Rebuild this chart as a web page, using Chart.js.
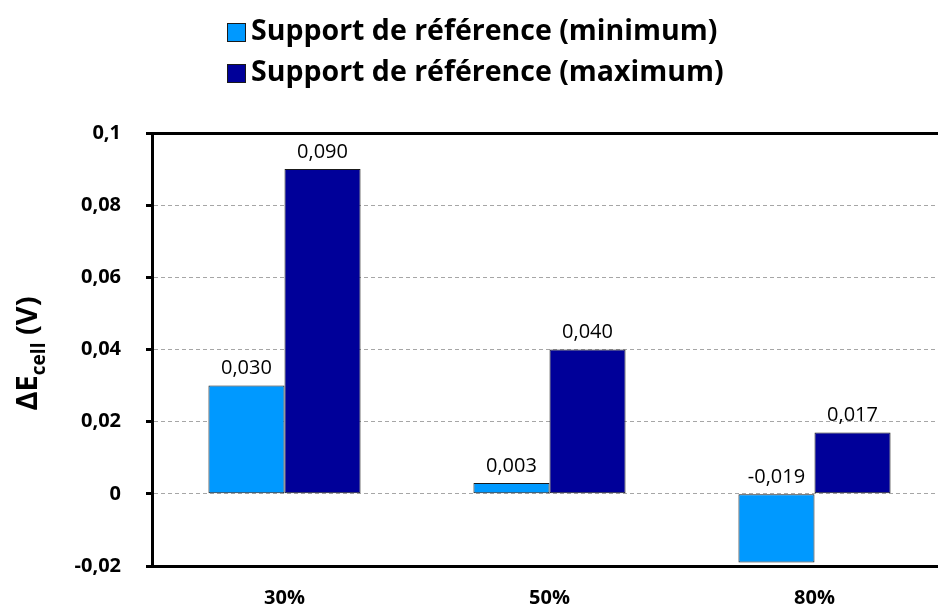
<!DOCTYPE html>
<html lang="fr">
<head>
  <meta charset="UTF-8">
  <title>ΔEcell – supports de référence</title>
  <script src="https://cdn.jsdelivr.net/npm/chart.js"></script>
  <style>
    html, body { margin: 0; padding: 0; overflow: hidden; background: #fff; }
    /* slightly wider than the window: the plot runs off the right edge */
    #chart-container { position: relative; width: 950px; height: 612px; }
  </style>
</head>
<body>
  <div id="chart-container">
    <canvas id="deltaChart"></canvas>
  </div>

  <script>
    // Data
    const categories = ['30%', '50%', '80%'];
    const seriesNames = ['Support de référence (minimum)', 'Support de référence (maximum)'];
    const minValues = [0.030, 0.003, -0.019];
    const maxValues = [0.090, 0.040, 0.017];
    const yTicks = [-0.02, 0, 0.02, 0.04, 0.06, 0.08, 0.1];
    const yTickLabels = ['-0,02', '0', '0,02', '0,04', '0,06', '0,08', '0,1'];

    const fontFamily = '"Open Sans", sans-serif';
    Chart.defaults.font.family = fontFamily;
    Chart.defaults.color = '#000';

    // Legend: two entries stacked, left edges aligned, centred as a block
    const stackedLegend = {
      id: 'stackedLegend',
      afterDraw(chart) {
        const ctx = chart.ctx;
        const box = 19, gap = 5;
        ctx.save();
        ctx.font = 'bold 28.5px ' + fontFamily;
        const textW = Math.max(...chart.data.datasets.map(ds => ctx.measureText(ds.label).width));
        const left = Math.round(chart.width / 2 - (box + gap + textW) / 2);
        ctx.textBaseline = 'middle';
        chart.data.datasets.forEach((ds, i) => {
          const cy = 32 + i * 41;
          const top = Math.round(cy - box / 2);
          ctx.fillStyle = ds.backgroundColor;
          ctx.fillRect(left, top, box, box);
          ctx.strokeStyle = ds.borderColor;
          ctx.lineWidth = 1;
          ctx.strokeRect(left + 0.5, top + 0.5, box - 1, box - 1);
          ctx.fillStyle = '#000';
          ctx.fillText(ds.label, left + box + gap, cy);
        });
        ctx.restore();
      }
    };

    // Rotated y title with the "cell" subscript
    const yTitle = {
      id: 'yTitle',
      afterDraw(chart) {
        const { ctx, chartArea } = chart;
        const big = 'bold 29px ' + fontFamily;
        const small = 'bold 19px ' + fontFamily;
        ctx.save();
        ctx.translate(27, (chartArea.top + chartArea.bottom) / 2 + 4);
        ctx.rotate(-Math.PI / 2);
        ctx.font = big;
        const w1 = ctx.measureText('ΔE').width;
        const w3 = ctx.measureText(' (V)').width;
        ctx.font = small;
        const w2 = ctx.measureText('cell').width;
        let x = -(w1 + w2 + w3) / 2;
        ctx.fillStyle = '#000';
        ctx.textBaseline = 'alphabetic';
        ctx.font = big;
        ctx.fillText('ΔE', x, 10);
        x += w1;
        ctx.font = small;
        ctx.fillText('cell', x, 18);
        x += w2;
        ctx.font = big;
        ctx.fillText(' (V)', x, 10);
        ctx.restore();
      }
    };

    // Value written above each bar (above the zero line for negative ones)
    const valueLabels = {
      id: 'valueLabels',
      afterDatasetsDraw(chart) {
        const ctx = chart.ctx;
        ctx.save();
        ctx.font = '20px ' + fontFamily;
        ctx.fillStyle = '#000';
        ctx.textAlign = 'center';
        ctx.textBaseline = 'bottom';
        chart.data.datasets.forEach((ds, i) => {
          chart.getDatasetMeta(i).data.forEach((bar, j) => {
            const top = Math.min(bar.y, bar.base);
            ctx.fillText(ds.data[j].toFixed(3).replace('.', ','), bar.x, top - 7);
          });
        });
        ctx.restore();
      }
    };

    const edgeTick = (c) => c.index === 0 || c.index === yTicks.length - 1;

    const ctx = document.getElementById('deltaChart').getContext('2d');
    new Chart(ctx, {
      type: 'bar',
      data: {
        labels: categories,
        datasets: [
          {
            label: seriesNames[0],
            data: minValues,
            backgroundColor: '#0099FF',
            borderColor: '#1A1A1A',
            borderWidth: 1,
            borderSkipped: false,
            categoryPercentage: 0.574,
            barPercentage: 1
          },
          {
            label: seriesNames[1],
            data: maxValues,
            backgroundColor: '#000099',
            borderColor: '#1A1A1A',
            borderWidth: 1,
            borderSkipped: false,
            categoryPercentage: 0.574,
            barPercentage: 1
          }
        ]
      },
      options: {
        responsive: true,
        maintainAspectRatio: false,
        animation: false,
        layout: { padding: { top: 97, right: 3, left: 0, bottom: 0 } },
        plugins: {
          tooltip: { enabled: false },
          legend: { display: false }
        },
        scales: {
          x: {
            position: 'bottom',
            grid: { display: false, drawTicks: false },
            border: { display: true, color: '#000', width: 3 },
            ticks: { padding: 20, color: '#000', font: { size: 20, weight: 'bold' } },
            afterFit: (s) => { s.height = 46; }
          },
          xTop: {
            type: 'category',
            position: 'top',
            grid: { display: false, drawTicks: false },
            border: { display: true, color: '#000', width: 3 },
            ticks: { display: false },
            afterFit: (s) => { s.height = 36; }
          },
          y: {
            min: -0.02,
            max: 0.1,
            afterBuildTicks: (s) => { s.ticks = yTicks.map(v => ({ value: v })); },
            ticks: {
              callback: (v, i) => yTickLabels[i],
              padding: 25,
              color: '#000',
              font: { size: 20, weight: 'bold' }
            },
            grid: {
              color: (c) => edgeTick(c) ? 'rgba(0,0,0,0)' : '#A6A6A6',
              lineWidth: 1,
              tickColor: '#000',
              tickWidth: 3,
              tickLength: 6,
              tickBorderDash: []
            },
            border: { display: true, color: '#000', width: 3, dash: [4, 3] },
            afterFit: (s) => { s.width = 152; }
          }
        }
      },
      plugins: [stackedLegend, yTitle, valueLabels]
    });
  </script>
</body>
</html>
